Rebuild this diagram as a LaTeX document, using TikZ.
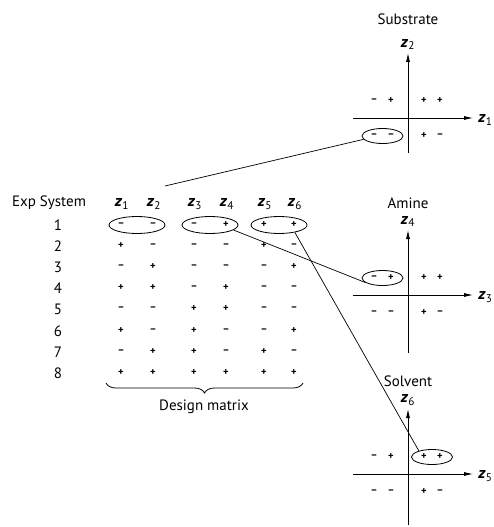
\documentclass[tikz,border=0pt]{standalone}
\usepackage{fontspec}
\setmainfont{PT Sans}
\usetikzlibrary{positioning,calc,shapes.geometric,decorations.pathreplacing,arrows.meta}
\newcommand{\zv}[1]{\textbf{\textit{z}}\textsubscript{#1}}

\begin{document}
\begin{tikzpicture}[x=1pt,y=-1pt,inner sep=0pt,node distance=4pt,line width=0.8pt]
\tikzstyle{lbl}=[font=\fontsize{15}{17}\selectfont]
\tikzstyle{zlbl}=[font=\fontsize{16}{18}\selectfont]
\tikzstyle{sgn}=[font=\fontsize{10.5}{12}\selectfont\bfseries]
\tikzstyle{oval}=[ellipse, draw, minimum width=56pt, minimum height=17pt]
\tikzstyle{small oval}=[ellipse, draw, minimum width=41pt, minimum height=15pt]
\tikzstyle{axis}=[-{Latex[length=9pt,width=4pt]}]
\tikzstyle{link}=[line width=0.7pt]
\useasboundingbox (0,0) rectangle (494,527);
% design matrix
\node[lbl] (exp) at (49,203) {Exp System};
\foreach \c/\x in {1/122,2/154,3/195,4/227,5/265,6/295}
  \node[zlbl] (z\c) at (\x,204) {\zv{\c}};
\foreach \r/\y/\signs in {1/225/{–,–,–,+,+,+},2/246/{+,–,–,–,+,–},3/267/{–,+,–,–,–,+},
    4/288/{+,+,–,+,–,–},5/309/{–,–,+,+,–,–},6/331/{+,–,+,–,–,+},7/352/{–,+,+,–,+,–},8/373/{+,+,+,+,+,+}}
  {\node[lbl] (r\r) at (58,\y) {\r};
   \foreach \s [count=\c] in \signs
     \node[sgn,xshift=-1pt] (m\r\c) at (z\c |- r\r) {\s};}
\node[oval] (t1) at ($(m11)!0.5!(m12)$) {};
\node[oval] (t2) at ($(m13)!0.5!(m14)$) {};
\node[oval] (t3) at ($(m15)!0.5!(m16)$) {};
\draw[decorate,decoration={brace,mirror,amplitude=10pt}] (106,383) -- (303,383);
\coordinate (btip) at (204,394);
\node[lbl,below=5pt of btip] (dm) {Design matrix};
% the three planes
\foreach \p/\ox/\oy/\bot/\xs/\ys/\ttl/\gap in {sub/408/118/153/1/2/Substrate/14pt,ami/408/295/353/3/4/Amine/7pt,sol/408/474/525/5/6/Solvent/7pt}
  {\draw[axis] (\ox,\bot) -- (\ox,\oy-65) coordinate (\p top);
   \draw[axis] (\ox-55,\oy) -- (\ox+65,\oy) coordinate (\p right);
   \node[zlbl,right=5pt of \p right,yshift=-2pt] (\p x) {\zv{\xs}};
   \node[zlbl,above=3pt of \p top] (\p y) {\zv{\ys}};
   \node[lbl,above=\gap of \p y] (\p t) {\ttl};
   \foreach \dx/\dy/\s [count=\k] in {-34/-17/–,-17/-17/+,16/-17/+,32/-17/+,-34/18/–,-17/18/–,16/18/+,32/18/–}
     \node[sgn] (\p s\k) at (\ox+\dx,\oy+\dy) {\s};}
\node[small oval] (subov) at ($(subs5)!0.5!(subs6)$) {};
\node[small oval] (amiov) at ($(amis1)!0.5!(amis2)$) {};
\node[small oval] (solov) at ($(sols3)!0.5!(sols4)$) {};
\coordinate (free) at (165,186);
\draw[link] (free) -- (subov.190);
\draw[link] (t2.-12) -- (amiov.195);
\draw[link] (t3.-25) -- (solov.155);
\end{tikzpicture}
\end{document}
